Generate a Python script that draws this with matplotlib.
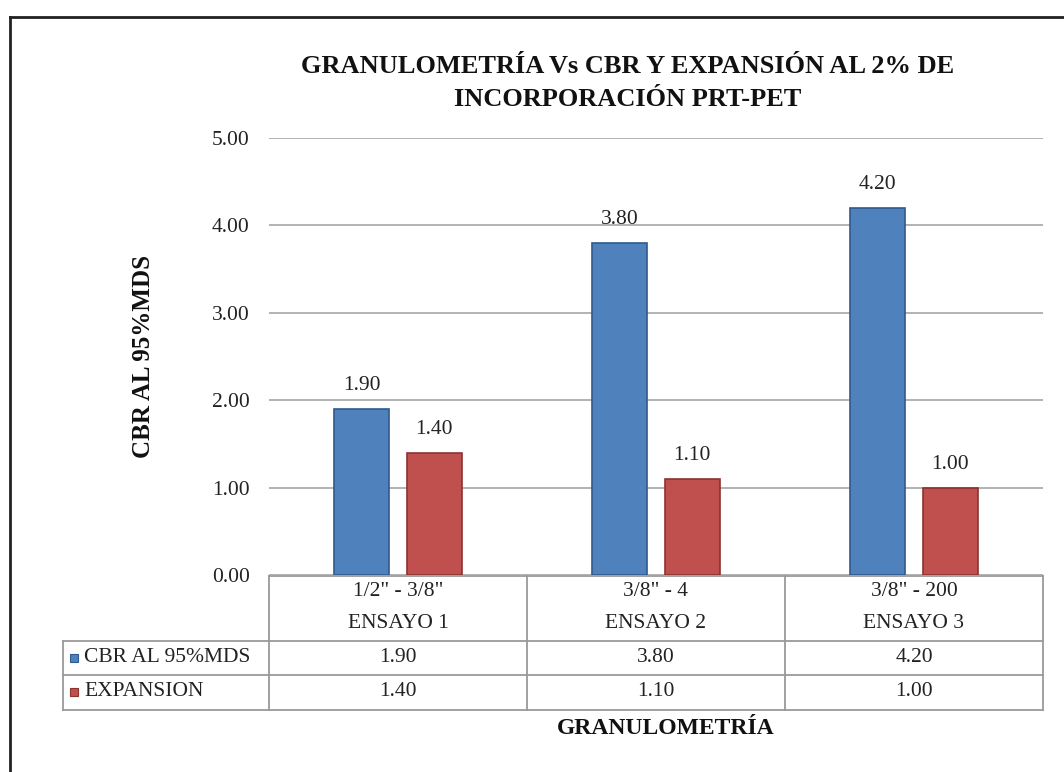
import matplotlib
matplotlib.use("Agg")
import matplotlib.pyplot as plt
from matplotlib.lines import Line2D
from matplotlib.patches import Rectangle
import matplotlib.transforms as mtransforms

plt.rcParams['font.family'] = ['Liberation Serif', 'DejaVu Serif']

# Chart data
ranges = ['1/2" - 3/8"', '3/8" - 4', '3/8" - 200']
tests = ['ENSAYO 1', 'ENSAYO 2', 'ENSAYO 3']
series_names = ['CBR AL 95%MDS', 'EXPANSION']
cbr = [1.90, 3.80, 4.20]
expansion = [1.40, 1.10, 1.00]
yticks = [0, 1, 2, 3, 4, 5]

W, H = 1064, 772
fig = plt.figure(figsize=(W / 100, H / 100), dpi=100)
fig.patch.set_facecolor('white')


def fx(px):
    return px / W


def fy(py):
    return 1 - py / H


# Plot area in pixel units
left, right, top, bottom = 269, 1043, 138, 575
ax = fig.add_axes([fx(left), fy(bottom), fx(right - left), (bottom - top) / H])

blue, blue_edge = '#4F81BD', '#2F5A8F'
red, red_edge = '#C0504D', '#8B3331'

x = range(len(tests))
off, bw = 0.14, 0.213
b1 = ax.bar([i - off for i in x], cbr, bw, color=blue, edgecolor=blue_edge, linewidth=1.2, zorder=3)
b2 = ax.bar([i + off for i in x], expansion, bw, color=red, edgecolor=red_edge, linewidth=1.2, zorder=3)

for bars, vals in ((b1, cbr), (b2, expansion)):
    for rect, v in zip(bars, vals):
        ax.annotate(f'{v:.2f}', (rect.get_x() + rect.get_width() / 2, v),
                    xytext=(0, 10), textcoords='offset points',
                    ha='center', va='bottom', fontsize=15.5, color='#222222')

ax.set_xlim(-0.5, 2.5)
ax.set_ylim(0, 5)
ax.set_yticks(yticks)
ax.set_yticklabels([f'{t:.2f}' for t in yticks], fontsize=15.5, color='#222222')
ax.tick_params(axis='y', length=0, pad=14)
ax.set_xticks([])
ax.grid(axis='y', color='#A6A6A6', linewidth=1.2, zorder=0)
for s in ax.spines.values():
    s.set_visible(False)

ax.set_ylabel('CBR AL 95%MDS', fontsize=18, fontweight='bold', color='#111111')
ax.yaxis.set_label_coords((155 - left) / (right - left), 0.5)

# Data table below the plot: x in data units, y in axes fraction
trans = mtransforms.blended_transform_factory(ax.transData, ax.transAxes)
axh = bottom - top


def ay(py):
    return (bottom - py) / axh


x_first = -0.5 - (left - 63) / ((right - left) / 3)
row_y = [576, 641, 675, 710]
grid_col = '#9A9A9A'


def hline(x0, x1, py):
    ax.add_line(Line2D([x0, x1], [ay(py), ay(py)], transform=trans, color=grid_col,
                       linewidth=1.3, clip_on=False))


def vline(xv, py0, py1):
    ax.add_line(Line2D([xv, xv], [ay(py0), ay(py1)], transform=trans, color=grid_col,
                       linewidth=1.3, clip_on=False))


hline(-0.5, 2.5, row_y[0])
for py in row_y[1:]:
    hline(x_first, 2.5, py)
for xv in [-0.5, 0.5, 1.5, 2.5]:
    vline(xv, row_y[0], row_y[3])
vline(x_first, row_y[1], row_y[3])

for i in x:
    ax.text(i, ay(591), ranges[i], transform=trans, ha='center', va='center',
            fontsize=15.5, color='#222222')
    ax.text(i, ay(623), tests[i], transform=trans, ha='center', va='center',
            fontsize=15.5, color='#222222')
    ax.text(i, ay(658), f'{cbr[i]:.2f}', transform=trans, ha='center', va='center',
            fontsize=15.5, color='#222222')
    ax.text(i, ay(692), f'{expansion[i]:.2f}', transform=trans, ha='center', va='center',
            fontsize=15.5, color='#222222')

# Series keys in the first column
for name, col, edge, py in ((series_names[0], blue, blue_edge, 658),
                            (series_names[1], red, red_edge, 692)):
    fig.patches.append(Rectangle((fx(70), fy(py + 4)), fx(8), 8 / H, transform=fig.transFigure,
                                 facecolor=col, edgecolor=edge, linewidth=0.8))
    fig.text(fx(84), fy(py), name, ha='left', va='center', fontsize=15.5, color='#222222')

# Titles
fig.text(fx(628), fy(83), 'GRANULOMETRÍA Vs CBR Y EXPANSIÓN AL 2% DE\nINCORPORACIÓN PRT-PET',
         ha='center', va='center', fontsize=19, fontweight='bold', color='#111111',
         linespacing=1.55)
fig.text(fx(666), fy(729), 'GRANULOMETRÍA', ha='center', va='center', fontsize=17,
         fontweight='bold', color='#111111')

# Outer chart frame
fig.add_artist(Line2D([fx(10), fx(10)], [fy(17), 0], transform=fig.transFigure,
                      color='#222222', linewidth=2))
fig.add_artist(Line2D([fx(10), 1], [fy(17), fy(17)], transform=fig.transFigure,
                      color='#222222', linewidth=2))

fig.savefig('out.png', dpi=100, facecolor='white')
